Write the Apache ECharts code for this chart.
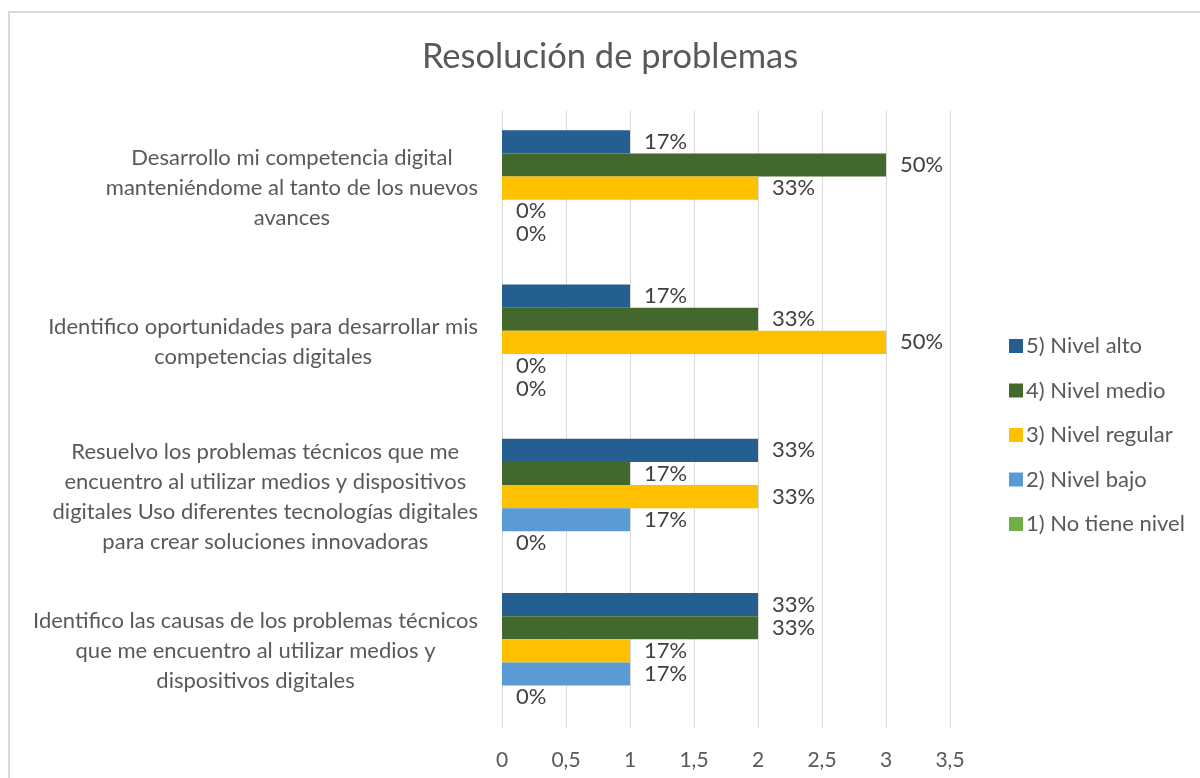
<!DOCTYPE html>
<html>
<head>
<meta charset="utf-8">
<script src="https://cdn.jsdelivr.net/npm/echarts@6/dist/echarts.min.js"></script>
<style>
html,body{margin:0;padding:0;background:#fff;}
#chart{width:1200px;height:778px;}
</style>
</head>
<body>
<div id="chart"></div>
<script>
// Categories, bottom to top (as ECharts draws a category y-axis)
const categories = [
  "Identifico las causas de los problemas técnicos\nque me encuentro al utilizar medios y\ndispositivos digitales",
  "Resuelvo los problemas técnicos que me\nencuentro al utilizar medios y dispositivos\ndigitales Uso diferentes tecnologías digitales\npara crear soluciones innovadoras",
  "Identifico oportunidades para desarrollar mis\ncompetencias digitales",
  "Desarrollo mi competencia digital\nmanteniéndome al tanto de los nuevos\navances"
];
const seriesNames = ["5) Nivel alto", "4) Nivel medio", "3) Nivel regular", "2) Nivel bajo", "1) No tiene nivel"];
const nivelAlto    = [2, 2, 1, 1];
const nivelMedio   = [2, 1, 2, 3];
const nivelRegular = [1, 2, 3, 2];
const nivelBajo    = [1, 1, 0, 0];
const noTieneNivel = [0, 0, 0, 0];
const xTicks = [0, 0.5, 1, 1.5, 2, 2.5, 3, 3.5];
const colors = ["#255e91", "#43682b", "#ffc000", "#5b9bd5", "#70ad47"];

const seriesData = [nivelAlto, nivelMedio, nivelRegular, nivelBajo, noTieneNivel];
const totals = categories.map((c, i) => seriesData.reduce((s, arr) => s + arr[i], 0));
const FONT = "Lato, 'Noto Sans', sans-serif";

const chart = echarts.init(document.getElementById('chart'));
chart.setOption({
  animation: false,
  backgroundColor: '#ffffff',
  textStyle: { fontFamily: FONT },
  title: {
    text: 'Resolución de problemas',
    left: 605, textAlign: 'center', top: 34,
    textStyle: { fontFamily: FONT, fontSize: 34.5, fontWeight: 'normal', color: '#595959' }
  },
  graphic: [{
    type: 'rect', silent: true, z: -1,
    shape: { x: 9, y: 12, width: 1400, height: 1000 },
    style: { fill: 'none', stroke: '#d9d9d9', lineWidth: 2 }
  }],
  legend: {
    orient: 'vertical',
    left: 1004, top: 330,
    itemWidth: 14, itemHeight: 14, itemGap: 22.5,
    data: seriesNames,
    textStyle: { fontFamily: FONT, fontSize: 22, color: '#595959', lineHeight: 22, padding: [0,0,0,-2] },
    icon: 'rect'
  },
  grid: { left: 502, right: 250, top: 111, height: 617, containLabel: false },
  xAxis: {
    type: 'value', min: xTicks[0], max: xTicks[xTicks.length - 1], interval: 0.5,
    axisLine: { show: false }, axisTick: { show: false },
    splitLine: { lineStyle: { color: '#d9d9d9', width: 1 } },
    axisLabel: {
      fontFamily: FONT, fontSize: 21, color: '#595959', margin: 22,
      formatter: v => String(v).replace('.', ',')
    }
  },
  yAxis: {
    type: 'category', data: categories,
    axisLine: { show: false }, axisTick: { show: false },
    axisLabel: {
      align: 'right', margin: 24,
      formatter: v => v.split('\n').map(l => '{c|' + l + '}').join('\n'),
      rich: {
        c: { fontFamily: FONT, fontSize: 22, color: '#595959', align: 'center', lineHeight: 30 }
      }
    }
  },
  series: seriesNames.map((name, si) => ({
    name, type: 'bar',
    data: seriesData[si],
    barGap: '0%', barCategoryGap: '25%',
    itemStyle: { color: colors[si] },
    label: {
      show: true, position: 'right', distance: 14,
      fontFamily: FONT, fontSize: 22, color: '#404040',
      formatter: p => Math.round(p.value / totals[p.dataIndex] * 100) + '%'
    }
  }))
});
</script>
</body>
</html>
